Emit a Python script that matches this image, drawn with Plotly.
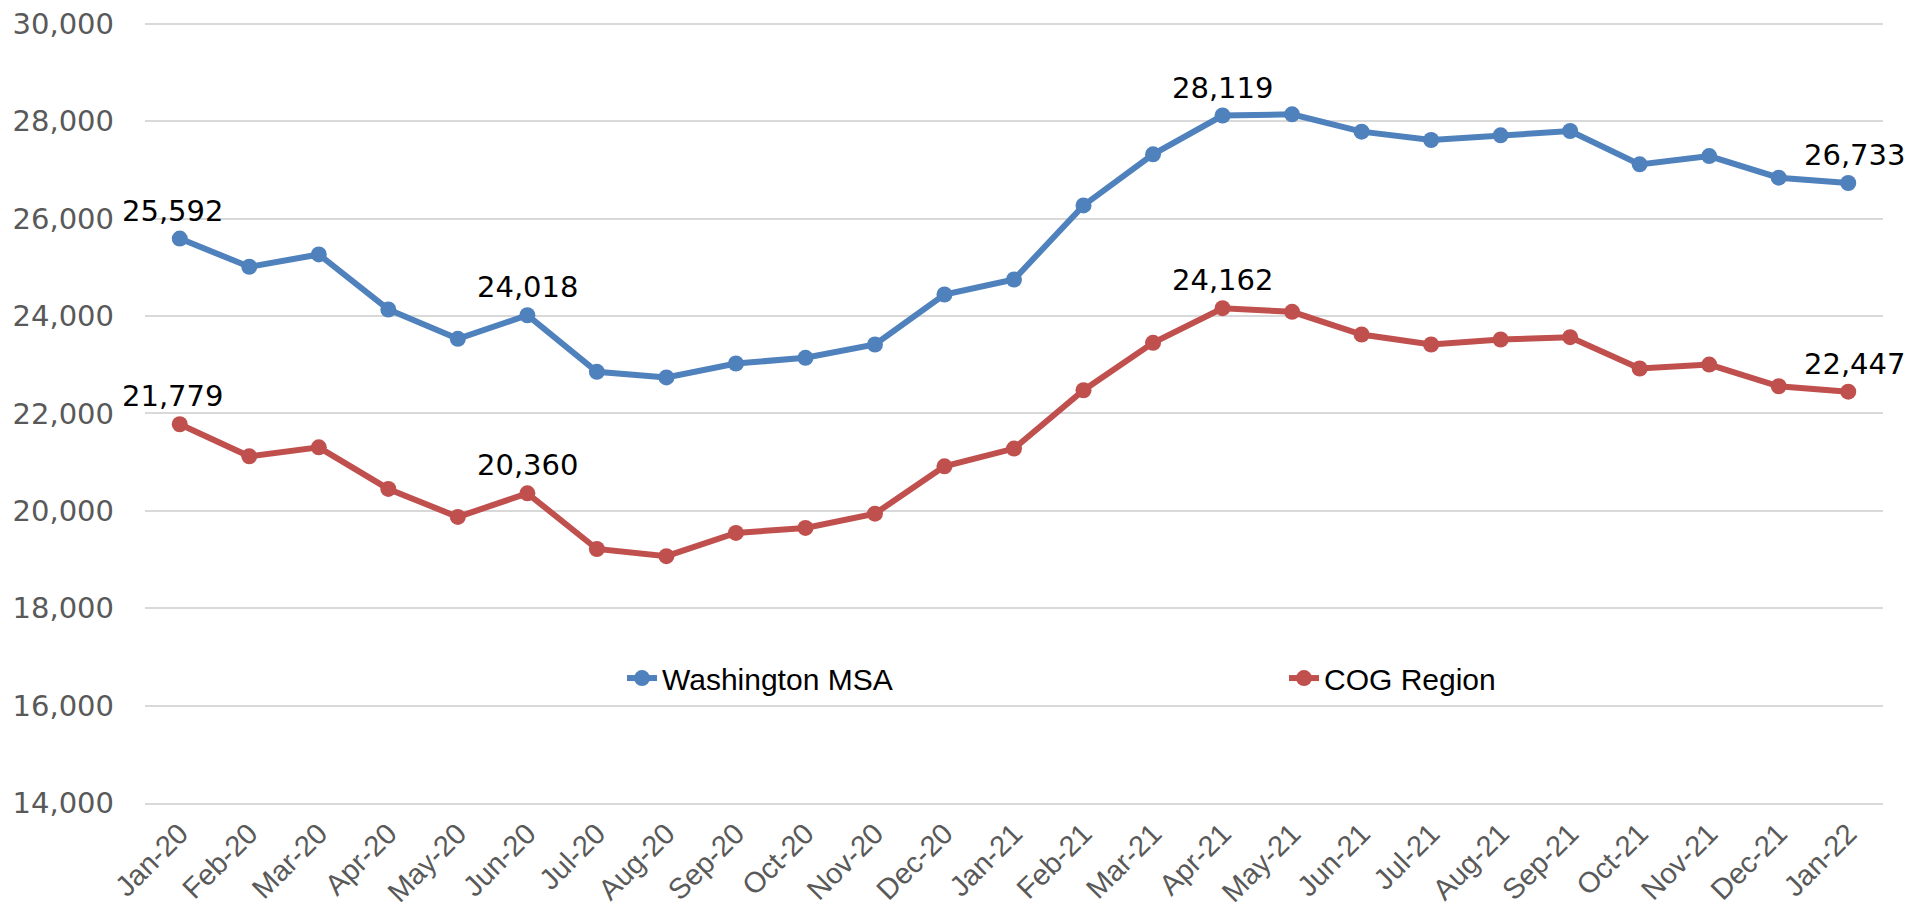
import plotly.graph_objects as go

months = ["Jan-20", "Feb-20", "Mar-20", "Apr-20", "May-20", "Jun-20", "Jul-20", "Aug-20",
          "Sep-20", "Oct-20", "Nov-20", "Dec-20", "Jan-21", "Feb-21", "Mar-21", "Apr-21",
          "May-21", "Jun-21", "Jul-21", "Aug-21", "Sep-21", "Oct-21", "Nov-21", "Dec-21", "Jan-22"]

washington_msa = [25592, 25013, 25266, 24136, 23533, 24018, 22855, 22740, 23026, 23143,
                  23416, 24444, 24752, 26273, 27322, 28119, 28144, 27788, 27616, 27712,
                  27801, 27116, 27287, 26843, 26733]

cog_region = [21779, 21120, 21305, 20450, 19875, 20360, 19217, 19070, 19546, 19649,
              19942, 20915, 21279, 22477, 23451, 24162, 24088, 23622, 23416, 23519,
              23567, 22923, 23005, 22559, 22447]

labeled_months = ["Jan-20", "Jun-20", "Apr-21", "Jan-22"]
y_ticks = list(range(14000, 30001, 2000))
y_range = [14000, 30040]

BLUE = "#4F81BD"
RED = "#C0504D"

W, H = 1911, 914
PLOT_L, PLOT_R, PLOT_T, PLOT_B = 145, 1883, 22, 803

fig = go.Figure()
fig.add_trace(go.Scatter(x=months, y=washington_msa, name="Washington MSA",
                         mode="lines+markers",
                         line=dict(color=BLUE, width=6),
                         marker=dict(color=BLUE, size=16)))
fig.add_trace(go.Scatter(x=months, y=cog_region, name="COG Region",
                         mode="lines+markers",
                         line=dict(color=RED, width=6),
                         marker=dict(color=RED, size=16)))

for series in (washington_msa, cog_region):
    for m in labeled_months:
        i = months.index(m)
        xs = -7 if i == 0 else (6 if i == len(months) - 1 else 0)
        fig.add_annotation(x=m, y=series[i], text=f"{series[i]:,}",
                           showarrow=False, yanchor="bottom", xanchor="center",
                           yshift=9, xshift=xs,
                           font=dict(family="DejaVu Sans", size=29, color="#000000"))

plot_w = PLOT_R - PLOT_L
fig.update_layout(
    width=W, height=H,
    margin=dict(l=PLOT_L, r=W - PLOT_R, t=PLOT_T, b=H - PLOT_B, autoexpand=False),
    paper_bgcolor="white", plot_bgcolor="white",
    showlegend=True,
    legend=dict(orientation="h", x=(622 - PLOT_L) / plot_w, xanchor="left",
                y=0.16, yanchor="middle", entrywidth=617, entrywidthmode="pixels",
                font=dict(family="Liberation Sans", size=30, color="#000000"),
                bgcolor="rgba(0,0,0,0)"),
    xaxis=dict(type="category", range=[-0.5, len(months) - 0.5],
               showgrid=False, showline=True, linecolor="#D9D9D9", linewidth=2,
               ticks="", tickangle=-45,
               tickfont=dict(family="Liberation Sans", size=29, color="#595959")),
    yaxis=dict(range=y_range, tickvals=y_ticks,
               ticktext=[f"{v:,}" for v in y_ticks],
               showgrid=True, gridcolor="#D9D9D9", gridwidth=2,
               zeroline=False, showline=False, ticks="",
               ticklabelstandoff=30,
               tickfont=dict(family="DejaVu Sans", size=29, color="#595959")),
)

fig.write_html("out.html",
               config={"displayModeBar": False},
               post_script="document.body.style.margin='0px';document.body.style.overflow='hidden';")
